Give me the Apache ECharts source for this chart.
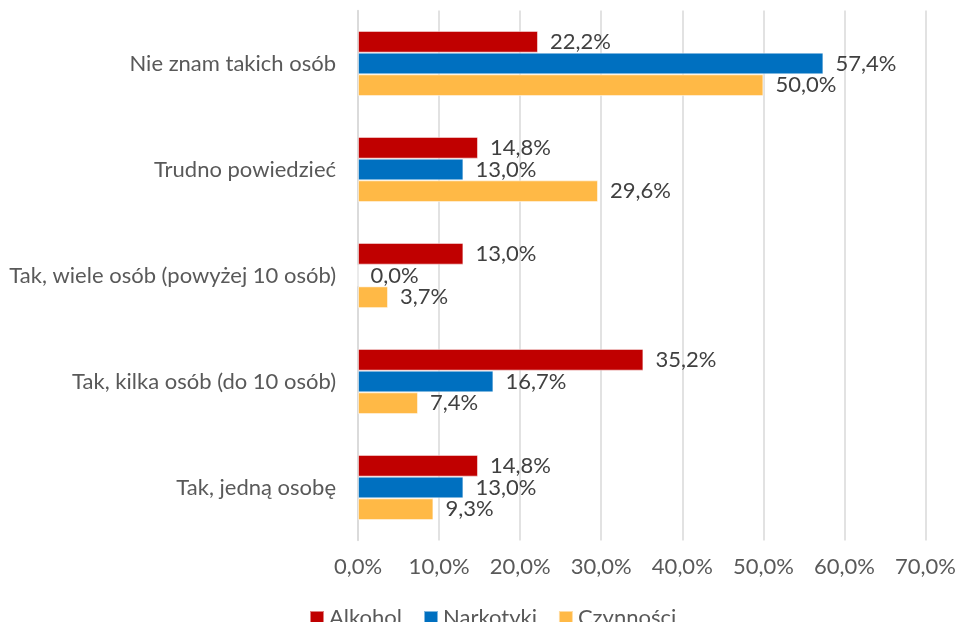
<!DOCTYPE html>
<html><head><meta charset="utf-8">
<script src="https://cdn.jsdelivr.net/npm/echarts@6/dist/echarts.min.js"></script>
<style>html,body{margin:0;padding:0;background:#fff}#c{width:959px;height:622px}</style>
</head><body><div id="c"></div>
<script>
const categories = ["Nie znam takich osób", "Trudno powiedzieć", "Tak, wiele osób (powyżej 10 osób)", "Tak, kilka osób (do 10 osób)", "Tak, jedną osobę"];
const alkohol = [22.2, 14.8, 13.0, 35.2, 14.8];
const narkotyki = [57.4, 13.0, 0.0, 16.7, 13.0];
const czynnosci = [50.0, 29.6, 3.7, 7.4, 9.3];
const seriesNames = ["Alkohol", "Narkotyki", "Czynności"];
const colors = ["#C00000", "#0070C0", "#FFB946"];

const FONT = "Lato, 'Liberation Sans', sans-serif";
const FS = 22;
const fmt = v => v.toFixed(1).replace('.', ',') + '%';
const mk = (name, data, color) => ({
  name, type: 'bar', data, barGap: '0%', barCategoryGap: '38.5%',
  itemStyle: { color, borderColor: 'rgba(255,255,255,0.5)', borderWidth: 1 },
  label: { show: true, position: 'right', distance: 12, color: '#404040', fontSize: FS, fontFamily: FONT,
    formatter: p => fmt(p.value) },
  animation: false
});
const chart = echarts.init(document.getElementById('c'), null, { renderer: 'canvas' });
chart.setOption({
  animation: false,
  color: colors,
  grid: { left: 358, right: 31, top: 10.5, bottom: 81.5, containLabel: false },
  legend: {
    data: seriesNames, left: 304, top: 602, itemWidth: 14, itemHeight: 14, itemGap: 21,
    icon: 'rect',
    textStyle: { color: '#595959', fontSize: FS, fontFamily: FONT }
  },
  xAxis: {
    type: 'value', min: 0, max: 70, interval: 10,
    axisLine: { show: false }, axisTick: { show: false },
    splitLine: { show: true, lineStyle: { color: '#D9D9D9', width: 1.5 } },
    axisLabel: { color: '#595959', fontSize: FS, fontFamily: FONT, margin: 15, formatter: v => fmt(v) }
  },
  yAxis: {
    type: 'category', data: categories, inverse: true,
    axisLine: { show: true, lineStyle: { color: '#D9D9D9', width: 1.5 } },
    axisTick: { show: false },
    axisLabel: { color: '#595959', fontSize: FS, fontFamily: FONT, margin: 22 }
  },
  series: [mk(seriesNames[0], alkohol, colors[0]), mk(seriesNames[1], narkotyki, colors[1]), mk(seriesNames[2], czynnosci, colors[2])]
});
</script></body></html>
